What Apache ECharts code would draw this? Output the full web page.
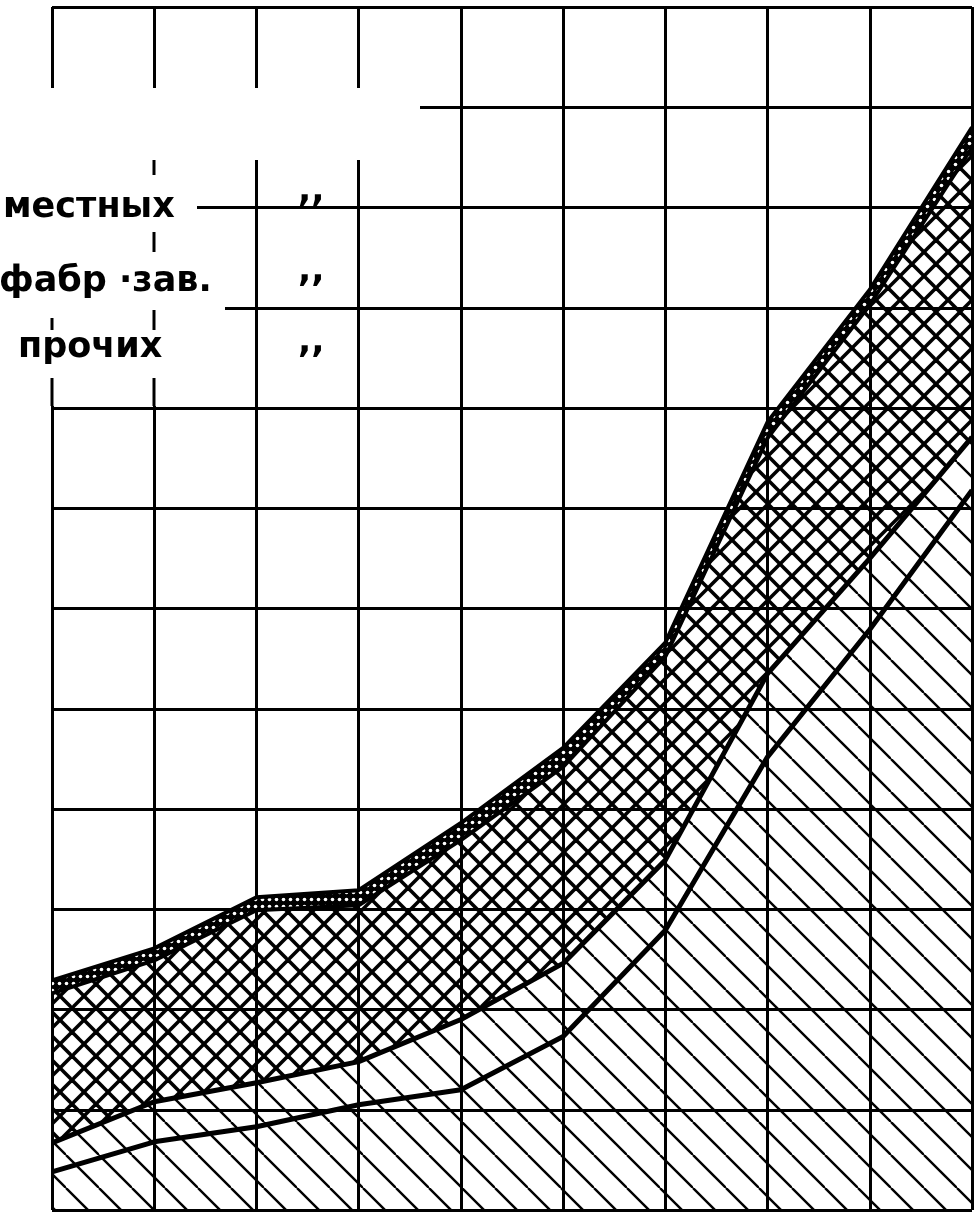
<!DOCTYPE html>
<html>
<head>
<meta charset="utf-8">
<script src="https://cdn.jsdelivr.net/npm/echarts@6/dist/echarts.min.js"></script>
<style>
html, body { margin: 0; padding: 0; background: #fff; }
#chart { width: 976px; height: 1216px; }
</style>
</head>
<body>
<div id="chart"></div>
<script>
// columns of the grid (no labels survive on the scan)
const categories = ['1', '2', '3', '4', '5', '6', '7', '8', '9', '10']
// stacked layers, bottom to top, one grid cell = 10 units
const layerBottom = [3.8, 6.8, 8.3, 10.5, 12.0, 17.3, 27.9, 45.2, 57.9, 71.8]
const layerSecond = [2.9, 4.0, 4.4, 4.3, 7.0, 7.3, 7.0, 8.3, 7.1, 5.3]
const layerCross = [14.9, 14.1, 17.2, 15.6, 17.9, 19.6, 20.3, 23.5, 25.3, 28.9]
const layerTop = [1.3, 1.2, 1.3, 1.5, 1.7, 1.9, 1.4, 1.6, 1.5, 2.0]
const legendLabels = ['местных', 'фабр ·зав.', 'прочих']
const dittoMark = ',,'

// hatch tiles drawn on small canvases
const makeTile = (size, draw) => {
  const c = document.createElement('canvas')
  c.width = size
  c.height = size
  draw(c.getContext('2d'), size)
  return { image: c, repeat: 'repeat' }
}
const diagHatch = makeTile(33, (ctx, s) => {
  ctx.strokeStyle = '#000'
  ctx.lineWidth = 2.4
  for (const o of [-s, 0, s]) {
    ctx.beginPath(); ctx.moveTo(o, 0); ctx.lineTo(o + s, s); ctx.stroke()
  }
})
const crossHatch = makeTile(24, (ctx, s) => {
  ctx.strokeStyle = '#000'
  ctx.lineWidth = 3.6
  for (const o of [-s, 0, s]) {
    ctx.beginPath(); ctx.moveTo(o, 0); ctx.lineTo(o + s, s); ctx.stroke()
    ctx.beginPath(); ctx.moveTo(o + s, 0); ctx.lineTo(o, s); ctx.stroke()
  }
})
const dotted = makeTile(7, (ctx, s) => {
  ctx.fillStyle = '#000'
  ctx.fillRect(0, 0, s, s)
  ctx.fillStyle = '#fff'
  ctx.beginPath(); ctx.arc(s / 2, s / 2, 1.8, 0, Math.PI * 2); ctx.fill()
})

const layer = (name, data, pattern, width) => ({
  name,
  type: 'line',
  stack: 'total',
  data,
  symbol: 'none',
  lineStyle: { color: '#000', width },
  areaStyle: { color: pattern, opacity: 1 }
})

const font = 'bold 35px "DejaVu Sans"'
const gridLine = { show: true, lineStyle: { color: '#000', width: 3 } }
const dash = (x, y1, y2) => ({
  type: 'line', z: 101,
  shape: { x1: x, y1, x2: x, y2 },
  style: { stroke: '#000', lineWidth: 3 }
})
const white = (x, y, width, height) => ({
  type: 'rect', z: 100,
  shape: { x, y, width, height },
  style: { fill: '#fff' }
})
const label = (text, x, y) => ({
  type: 'text', z: 102, x, y,
  style: { text, font, fill: '#000', textAlign: 'left', textVerticalAlign: 'middle' }
})

const chart = echarts.init(document.getElementById('chart'), null, { renderer: 'canvas' })
chart.setOption({
  animation: false,
  backgroundColor: '#fff',
  grid: { left: 52, right: 4, top: 7, bottom: 6 },
  xAxis: {
    type: 'category',
    data: categories,
    boundaryGap: false,
    axisLine: { show: false },
    axisTick: { show: false },
    axisLabel: { show: false },
    splitLine: gridLine
  },
  yAxis: {
    type: 'value',
    min: 0,
    max: 120,
    interval: 10,
    axisLine: { show: false },
    axisTick: { show: false },
    axisLabel: { show: false },
    splitLine: gridLine
  },
  series: [
    layer('слой 1', layerBottom, diagHatch, 5),
    layer('слой 2', layerSecond, diagHatch, 5),
    layer('слой 3', layerCross, crossHatch, 4),
    layer('слой 4', layerTop, dotted, 4)
  ],
  graphic: [
    white(0, 88, 420, 72),
    white(0, 160, 197, 246),
    white(197, 296, 28, 18),
    dash(154, 160, 175),
    dash(154, 232, 252),
    dash(154, 310, 330),
    dash(154, 378, 406),
    dash(52, 318, 330),
    dash(52, 378, 406),
    label(legendLabels[0], 3, 208),
    label(legendLabels[1], -1, 282),
    label(legendLabels[2], 18, 348),
    label(dittoMark, 298, 192),
    label(dittoMark, 298, 272),
    label(dittoMark, 298, 343)
  ]
})
</script>
</body>
</html>
